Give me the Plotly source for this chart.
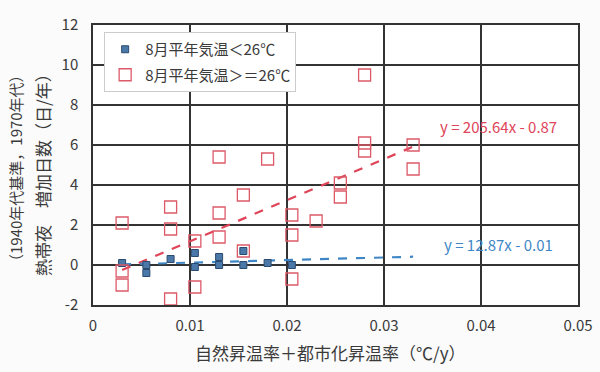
import plotly.graph_objects as go

# data: group with August mean temperature < 26°C
low_x = [0.003, 0.0055, 0.0055, 0.008, 0.0105, 0.0105, 0.013, 0.013, 0.0155, 0.0155, 0.018, 0.0205]
low_y = [0.1, 0.0, -0.4, 0.3, 0.6, -0.1, 0.4, 0.0, 0.7, 0.0, 0.1, 0.0]

# group with August mean temperature >= 26°C
high_x = [0.003, 0.003, 0.003, 0.008, 0.008, 0.008, 0.0105, 0.0105, 0.013, 0.013, 0.013,
          0.0155, 0.0155, 0.018, 0.0205, 0.0205, 0.0205, 0.023, 0.0255, 0.0255,
          0.028, 0.028, 0.028, 0.033, 0.033]
high_y = [2.1, -0.3, -1.0, 2.9, 1.8, -1.7, 1.2, -1.1, 5.4, 2.6, 1.4,
          3.5, 0.7, 5.3, 2.5, 1.5, -0.7, 2.2, 4.1, 3.4,
          9.5, 6.1, 5.7, 6.0, 4.8]

# linear trend lines (slope, intercept) and their x extent
trend_x = [0.003, 0.033]
high_fit = (205.64, -0.87)
low_fit = (12.87, -0.01)

x_ticks = [0, 0.01, 0.02, 0.03, 0.04, 0.05]
x_ticklabels = ["0", "0.01", "0.02", "0.03", "0.04", "0.05"]
y_ticks = [-2, 0, 2, 4, 6, 8, 10, 12]
y_ticklabels = ["-2", "0", "2", "4", "6", "8", "10", "12"]

FONT = "Noto Sans CJK JP"
RED = "#dc5a68"
BLUE = "#4a78a8"
TXT = "#3a3a3a"

fig = go.Figure()

fig.add_trace(go.Scatter(
    x=trend_x, y=[high_fit[0] * v + high_fit[1] for v in trend_x],
    mode="lines", line=dict(color="#e04458", width=2.2, dash="dash"),
    showlegend=False, hoverinfo="skip"))
fig.add_trace(go.Scatter(
    x=trend_x, y=[low_fit[0] * v + low_fit[1] for v in trend_x],
    mode="lines", line=dict(color="#3f86c6", width=2.2, dash="dash"),
    showlegend=False, hoverinfo="skip"))

fig.add_trace(go.Scatter(
    x=low_x, y=low_y, mode="markers", name="8月平年気温＜26℃", legendgroup="a",
    marker=dict(symbol="square", size=7, color=BLUE,
                line=dict(color="#2c4a6e", width=1))))
fig.add_trace(go.Scatter(
    x=high_x, y=high_y, mode="markers", name="8月平年気温＞＝26℃", legendgroup="b",
    marker=dict(symbol="square-open", size=12, color=RED,
                line=dict(color=RED, width=1.3))))

fig.add_annotation(x=0.0418, y=6.95, xref="x", yref="y",
                   text="y = 205.64x - 0.87", showarrow=False,
                   font=dict(family=FONT, size=15, color="#e04458"))
fig.add_annotation(x=0.0418, y=1.05, xref="x", yref="y",
                   text="y = 12.87x - 0.01", showarrow=False,
                   font=dict(family=FONT, size=15, color="#3f86c6"))

# axis titles
fig.add_annotation(x=0.489, y=-0.171, xref="paper", yref="paper",
                   xanchor="center", yanchor="middle",
                   text="自然昇温率＋都市化昇温率（℃/y）", showarrow=False,
                   font=dict(family=FONT, size=17, color=TXT))
fig.add_annotation(x=-0.161, y=0.489, xref="paper", yref="paper", textangle=-90,
                   xanchor="center", yanchor="middle",
                   text="（1940年代基準，1970年代）", showarrow=False,
                   font=dict(family=FONT, size=15, color=TXT))
fig.add_annotation(x=-0.103, y=0.479, xref="paper", yref="paper", textangle=-90,
                   xanchor="center", yanchor="middle",
                   text="熱帯夜　増加日数（日/年）", showarrow=False,
                   font=dict(family=FONT, size=17, color=TXT))

grid = "#333333"
fig.update_layout(
    width=600, height=372,
    margin=dict(l=93, r=22, t=25, b=67),
    paper_bgcolor="#fbfbfb", plot_bgcolor="#ffffff",
    font=dict(family=FONT, size=15, color=TXT),
    showlegend=True,
    legend=dict(x=0.023, y=0.975, xanchor="left", yanchor="top",
                bgcolor="#ffffff", bordercolor="#cccccc", borderwidth=1,
                font=dict(family=FONT, size=15, color=TXT),
                traceorder="grouped", tracegroupgap=3,
                itemsizing="trace", itemwidth=30),
    xaxis=dict(range=[0, 0.05], tickvals=x_ticks, ticktext=x_ticklabels,
               showgrid=True, gridcolor=grid, gridwidth=1.5,
               zeroline=False, showline=True, linecolor=grid, linewidth=1.5,
               mirror=True, ticks="", automargin=False, ticklabelstandoff=6,
               tickfont=dict(family=FONT, size=15, color=TXT)),
    yaxis=dict(range=[-2, 12], tickvals=y_ticks, ticktext=y_ticklabels,
               showgrid=True, gridcolor=grid, gridwidth=1.5,
               zeroline=False, showline=True, linecolor=grid, linewidth=1.5,
               mirror=True, ticks="", automargin=False, ticklabelstandoff=10,
               tickfont=dict(family=FONT, size=15, color=TXT)),
)

fig.write_html("out.html", config={"displayModeBar": False},
               post_script="document.body.style.margin='0';document.body.style.overflow='hidden';")
